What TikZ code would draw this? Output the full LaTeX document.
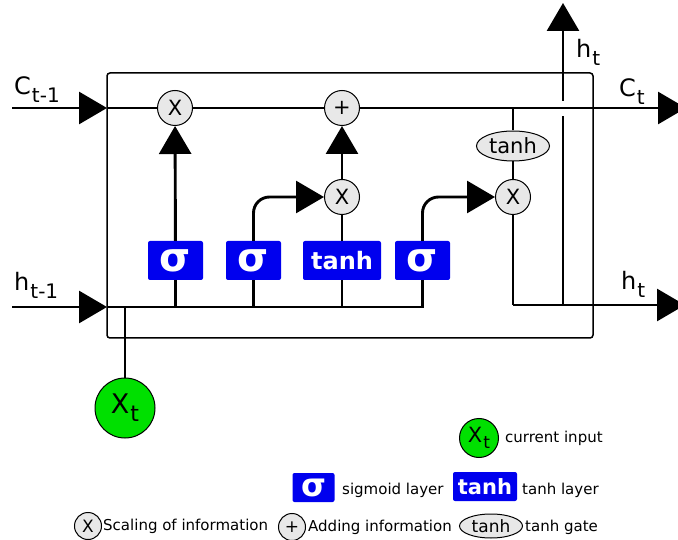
\documentclass[tikz,border=0pt]{standalone}
\usepackage{fontspec}
\setmainfont{DejaVu Sans}
\usetikzlibrary{arrows.meta,positioning,shapes.geometric}
\definecolor{layerc}{HTML}{0000EE}
\definecolor{inputc}{HTML}{00E000}
\definecolor{opc}{HTML}{E8E8E8}
\newcommand{\fs}[1]{\fontsize{#1}{#1}\selectfont}
\newcommand{\sbs}[3]{#1\kern1pt\raisebox{-.3em}{\fs{#3}#2}}
\tikzset{
  wire/.style={line width=2.9pt},
  ar/.style={wire,-{Triangle[length=28pt,width=32pt]}},
  op/.style={circle,draw,line width=1pt,fill=opc,minimum size=35pt,inner sep=0pt,font=\fs{21}},
  layer/.style={fill=layerc,text=white,rounded corners=2pt,minimum height=39pt,inner sep=0pt,font=\fs{24}\bfseries},
  sig/.style={layer,minimum width=55pt,font=\fs{40}\bfseries},
  gate/.style={ellipse,draw,line width=1pt,fill=opc,minimum width=73pt,minimum height=30pt,inner sep=0pt,font=\fs{21}},
  inp/.style={circle,draw,line width=1pt,fill=inputc,inner sep=0pt},
  lab/.style={anchor=base west,inner sep=0pt,font=\fs{24}},
  key/.style={anchor=west,inner sep=0pt,font=\fs{15}}
}
\begin{document}
\begin{tikzpicture}[x=1pt,y=-1pt]
\useasboundingbox (0,0) rectangle (678,540);
% cell
\draw[line width=1.5pt,rounded corners=3pt] (107,73) rectangle (593,338);
% operations
\node[op] (mulf) at (175,108) {X};
\node[op] (add) at (342,108) {+};
\node[op] (muli) at (342,197) {X};
\node[op] (mulo) at (513,197) {X};
\node[gate] (tgate) at (513,146) {tanh};
% layers
\node[sig] (sigf) at (175.5,260.5) {σ};
\node[sig] (sigi) at (253.5,260.5) {σ};
\node[layer,minimum width=78pt] (tanhl) at (342,260.5) {tanh};
\node[sig] (sigo) at (422.5,260.5) {σ};
\node[inp,minimum size=60pt,font=\fs{27}] (xin) at (125,408) {\sbs{X}{t}{22}};
\coordinate (cin) at (12,108);
\coordinate (cleft) at (107,108);
\coordinate (cout) at (686,108);
\coordinate (ojoin) at (513,108);
\coordinate (hin) at (12,307);
\coordinate (hleft) at (107,307);
\coordinate (hcorner) at (513,305);
\coordinate (hout) at (685,305);
\coordinate (hup) at (563,305);
\coordinate (gapl) at (563,116);
\coordinate (gaph) at (563,101);
\coordinate (htop) at (563,3);
% cell state
\draw[ar] (cin) -- (cleft);
\draw[wire] (cleft) -- (mulf);
\draw[wire] (mulf) -- (add);
\draw[ar] (add) -- (cout);
% hidden state in
\draw[ar] (hin) -- (hleft);
\draw[wire] (hleft) -| (sigo);
\draw[wire] (sigf |- hleft) -- (sigf);
\draw[wire] (sigi |- hleft) -- (sigi);
\draw[wire] (tanhl |- hleft) -- (tanhl);
\draw[wire] (xin) -- (xin |- hleft);
% gates
\draw[ar] (sigf) -- (mulf);
\draw[ar,rounded corners=16pt] (sigi) |- (muli);
\draw[wire] (tanhl) -- (muli);
\draw[ar] (muli) -- (add);
\draw[ar,rounded corners=16pt] (sigo) |- (mulo);
% output
\draw[wire] (ojoin) -- (tgate);
\draw[wire] (tgate) -- (mulo);
\draw[wire] (mulo) -- (hcorner);
\draw[ar] (hcorner) -- (hout);
\draw[wire] (hup) -- (gapl);
\draw[ar] (gaph) -- (htop);
% labels
\node[lab] (lcin) at (14,95) {\sbs{C}{t-1}{20}};
\node[lab] (lhin) at (14,291) {\sbs{h}{t-1}{20}};
\node[lab] (lhtop) at (576,58) {\sbs{h}{t}{20}};
\node[lab] (lcout) at (619,97) {\sbs{C}{t}{20}};
\node[lab] (lhout) at (621,290) {\sbs{h}{t}{20}};
% legend
\node[inp,minimum size=39pt,font=\fs{21}] (kx) at (479,438) {\sbs{X}{t}{17}};
\node[key] (kxt) at (505,438) {current input};
\node[layer,minimum width=42pt,minimum height=29pt,font=\fs{32}\bfseries] (ks) at (313.5,487.5) {σ};
\node[key] (kst) at (342,490) {sigmoid layer};
\node[layer,minimum width=64pt,minimum height=29pt,font=\fs{21}\bfseries] (kt) at (485,486.5) {tanh};
\node[key] (ktt) at (522,490) {tanh layer};
\node[op,minimum size=27pt,font=\fs{17}] (km) at (88,526) {X};
\node[key] (kmt) at (103,526) {Scaling of information};
\node[op,minimum size=27pt,font=\fs{17}] (ka) at (292,527) {+};
\node[key] (kat) at (308,527) {Adding information};
\node[gate,minimum width=63pt,minimum height=24pt,font=\fs{17}] (kg) at (491,526) {tanh};
\node[key] (kgt) at (525,527) {tanh gate};
\end{tikzpicture}
\end{document}
